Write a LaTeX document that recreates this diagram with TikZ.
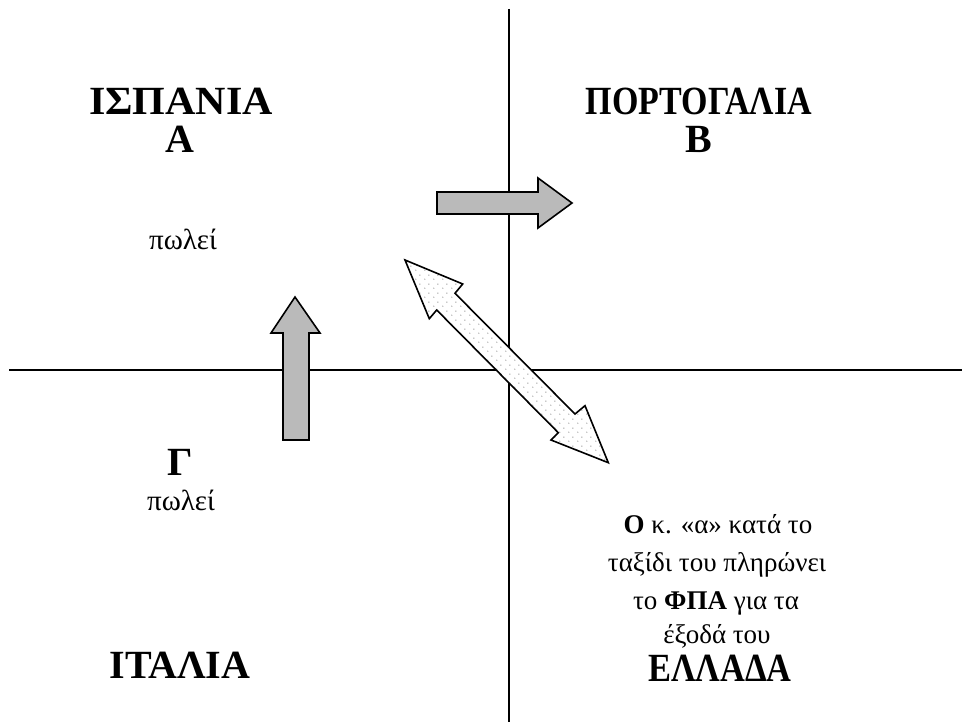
\documentclass[tikz,border=0pt]{standalone}
\usepackage{fontspec}
\usepackage{graphicx}
\setmainfont{Liberation Serif}
\usetikzlibrary{patterns.meta}
\tikzdeclarepattern{
  name=sparsedots,
  type=uncolored,
  bounding box={(0,0) and (9pt,9pt)},
  tile size={(9pt,9pt)},
  code={\fill (2pt,2pt) circle (0.6pt); \fill (6.5pt,6.5pt) circle (0.6pt);}
}
\begin{document}
\begin{tikzpicture}[x=1pt,y=-1pt,
  axis/.style={line width=1.5pt,black},
  caps/.style={font=\fontsize{40}{48}\selectfont\bfseries,anchor=base,inner sep=0pt},
  lower/.style={font=\fontsize{27}{32}\selectfont,anchor=base,inner sep=0pt},
  sell/.style={font=\fontsize{29}{34}\selectfont,anchor=base,inner sep=0pt},
  grayarrow/.style={draw=black,line width=1.6pt,fill=black!27,line join=miter},
  dotarrow/.style={draw=black,line width=1.6pt,preaction={fill=white},pattern=sparsedots,pattern color=black!60,line join=miter}]
\useasboundingbox (0,0) rectangle (962,722);
% axes
\coordinate (vtop) at (509,9);
\coordinate (vbot) at (509,722);
\coordinate (hleft) at (9,370);
\coordinate (hright) at (962,370);
\draw[axis] (vtop) -- (vbot);
\draw[axis] (hleft) -- (hright);
% left-top
\node[caps] (spain) at (181,115) {\scalebox{1.05}[1]{ΙΣΠΑΝΙΑ}};
\node[caps] (A) at (180,153) {Α};
\node[sell] (sellA) at (183,250) {πωλεί};
% right-top
\node[caps] (port) at (699,115) {\scalebox{0.85}[1]{ΠΟΡΤΟΓΑΛΙΑ}};
\node[caps] (B) at (699,153) {Β};
% left-bottom
\node[caps] (G) at (180,475) {Γ};
\node[sell] (sellG) at (181,510) {πωλεί};
\node[caps] (italy) at (180,678) {ΙΤΑΛΙΑ};
% right-bottom
\node[lower] (l1) at (718,533) {\textbf{Ο} κ. «α» κατά το};
\node[lower] (l2) at (717,571) {ταξίδι του πληρώνει};
\node[lower] (l3) at (716,609) {το \textbf{ΦΠΑ} για τα};
\node[lower] (l4) at (717,643) {έξοδά του};
\node[caps] (greece) at (720,681) {\scalebox{0.86}[1]{ΕΛΛΑΔΑ}};
% right arrow
\draw[grayarrow] (437,192) -- (538,192) -- (538,178) -- (572,203) -- (538,228) -- (538,214) -- (437,214) -- cycle;
% up arrow
\draw[grayarrow] (283,440) -- (283,333) -- (271,333) -- (295,297) -- (320,333) -- (309,333) -- (309,440) -- cycle;
% double arrow
\draw[dotarrow] (405,260) -- (462.7,284) -- (455,293.3) -- (575,414) -- (585,405.7) -- (608.3,462.7) -- (551,440) -- (558.3,432.7) -- (436.7,310) -- (429.3,318.7) -- cycle;
\end{tikzpicture}
\end{document}
